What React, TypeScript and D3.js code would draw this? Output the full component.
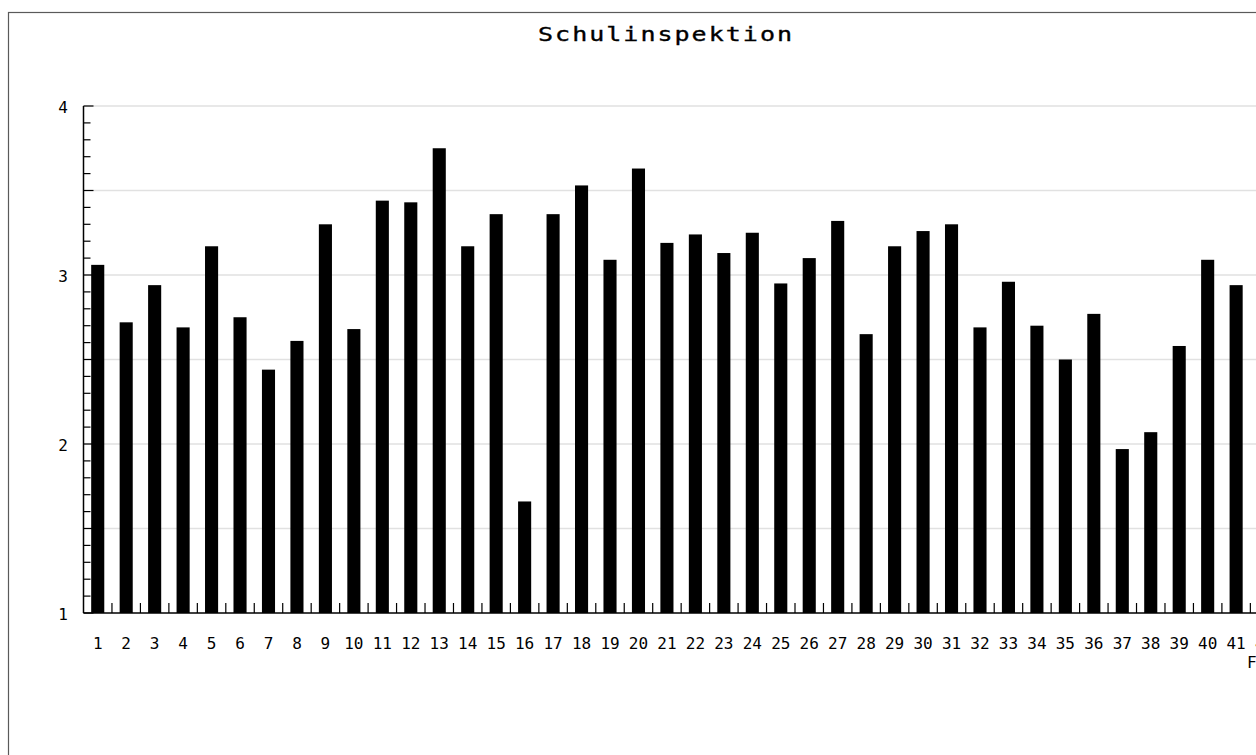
import { select, scaleBand, scaleLinear, range } from "d3";
import React, { useEffect, useRef } from "react";

// Fragen 1..42 (42 liegt schon halb außerhalb des Bildes)
const categories = [
  "1", "2", "3", "4", "5", "6", "7", "8", "9", "10",
  "11", "12", "13", "14", "15", "16", "17", "18", "19", "20",
  "21", "22", "23", "24", "25", "26", "27", "28", "29", "30",
  "31", "32", "33", "34", "35", "36", "37", "38", "39", "40",
  "41", "42",
];

// Mittelwerte pro Frage
const values = [
  3.06, 2.72, 2.94, 2.69, 3.17, 2.75, 2.44, 2.61, 3.3, 2.68,
  3.44, 3.43, 3.75, 3.17, 3.36, 1.66, 3.36, 3.53, 3.09, 3.63,
  3.19, 3.24, 3.13, 3.25, 2.95, 3.1, 3.32, 2.65, 3.17, 3.26,
  3.3, 2.69, 2.96, 2.7, 2.5, 2.77, 1.97, 2.07, 2.58, 3.09,
  2.94,
];

const yTickLabels = ["1", "2", "3", "4"];
const yDomain = [1, 4];

const title = "Schulinspektion";
const xTitle = "Fragen";

const FONT = "'DejaVu Sans Mono', 'Liberation Mono', monospace";

const App = () => {
  const chartRef = useRef<SVGSVGElement>(null);

  useEffect(() => {
    if (!chartRef.current) return;
    const svg = select(chartRef.current);
    svg.selectAll("*").remove();

    // Plotbereich
    const left = 83.5;
    const top = 106;
    const bottom = 613;
    const step = 28.46;
    const right = left + categories.length * step;

    const x = scaleBand<string>()
      .domain(categories)
      .range([left, right])
      .paddingInner(0.54)
      .paddingOuter(0.27);
    const xb = scaleBand<string>().domain(categories).range([left, right]).padding(0);

    const y = scaleLinear().domain(yDomain).range([bottom, top]);

    // Rahmen
    svg
      .append("rect")
      .attr("x", 8.5)
      .attr("y", 12.5)
      .attr("width", 1320)
      .attr("height", 900)
      .attr("fill", "#fff")
      .attr("stroke", "#5a5a5a")
      .attr("stroke-width", 1.2);

    // Titel (breite Bitmap-Schrift nachgeahmt: horizontal gestreckt)
    const titleScale = 1.25;
    svg
      .append("g")
      .attr("transform", `translate(665,41) scale(${titleScale},1)`)
      .append("text")
      .attr("x", 0)
      .attr("y", 0)
      .attr("text-anchor", "middle")
      .attr("font-family", FONT)
      .attr("font-size", 20)
      .attr("stroke", "#000")
      .attr("stroke-width", 0.35)
      .attr("textLength", 254 / titleScale)
      .attr("lengthAdjust", "spacing")
      .attr("fill", "#000")
      .text(title);

    // Gitterlinien alle 0.5
    const gridVals = range(1.5, 4.01, 0.5);
    svg
      .append("g")
      .selectAll("line")
      .data(gridVals)
      .enter()
      .append("line")
      .attr("x1", left)
      .attr("x2", right)
      .attr("y1", (d) => y(d))
      .attr("y2", (d) => y(d))
      .attr("stroke", "#e1e1e1")
      .attr("stroke-width", 1.5);

    // Balken
    svg
      .append("g")
      .selectAll("rect")
      .data(values)
      .enter()
      .append("rect")
      .attr("x", (_d, i) => x(categories[i]) || 0)
      .attr("y", (d) => y(d))
      .attr("width", x.bandwidth())
      .attr("height", (d) => bottom - y(d))
      .attr("fill", "#000");

    // y-Achse
    const ya = svg.append("g");
    ya.append("line")
      .attr("x1", left)
      .attr("x2", left)
      .attr("y1", top)
      .attr("y2", bottom)
      .attr("stroke", "#000")
      .attr("stroke-width", 1.5);
    const minor = range(0, 31).map((k) => 1 + k / 10);
    ya.selectAll("line.tick")
      .data(minor)
      .enter()
      .append("line")
      .attr("class", "tick")
      .attr("x1", left)
      .attr("x2", (_d, k) => left + (k % 5 === 0 ? 10 : 7))
      .attr("y1", (d) => y(d))
      .attr("y2", (d) => y(d))
      .attr("stroke", "#000")
      .attr("stroke-width", 1.2);
    ya.selectAll("text")
      .data(yTickLabels)
      .enter()
      .append("text")
      .attr("x", 68)
      .attr("y", (d) => y(+d) + 7)
      .attr("text-anchor", "end")
      .attr("font-family", FONT)
      .attr("font-size", 16)
      .attr("fill", "#000")
      .text((d) => d);

    // x-Achse
    const xa = svg.append("g");
    xa.append("line")
      .attr("x1", left)
      .attr("x2", right)
      .attr("y1", bottom)
      .attr("y2", bottom)
      .attr("stroke", "#000")
      .attr("stroke-width", 1.5);
    xa.selectAll("line.tick")
      .data(categories)
      .enter()
      .append("line")
      .attr("class", "tick")
      .attr("x1", (d) => (xb(d) || 0) + xb.bandwidth())
      .attr("x2", (d) => (xb(d) || 0) + xb.bandwidth())
      .attr("y1", bottom)
      .attr("y2", bottom - 10)
      .attr("stroke", "#000")
      .attr("stroke-width", 1.2);
    xa.selectAll("text")
      .data(categories)
      .enter()
      .append("text")
      .attr("x", (d) => (xb(d) || 0) + xb.bandwidth() / 2)
      .attr("y", 649)
      .attr("text-anchor", "middle")
      .attr("font-family", FONT)
      .attr("font-size", 16)
      .attr("fill", "#000")
      .text((d) => d);

    // Achsentitel (rechts am Achsenende)
    svg
      .append("text")
      .attr("x", 1247)
      .attr("y", 668)
      .attr("font-family", FONT)
      .attr("font-size", 16)
      .attr("fill", "#000")
      .text(xTitle);
  }, []);

  return (
    <div
      style={{
        position: "fixed",
        left: 0,
        top: 0,
        width: "100vw",
        height: "100vh",
        overflow: "hidden",
        background: "#fff",
      }}
    >
      <svg ref={chartRef} width={1400} height={900} style={{ display: "block" }}></svg>
    </div>
  );
};

export default App;
